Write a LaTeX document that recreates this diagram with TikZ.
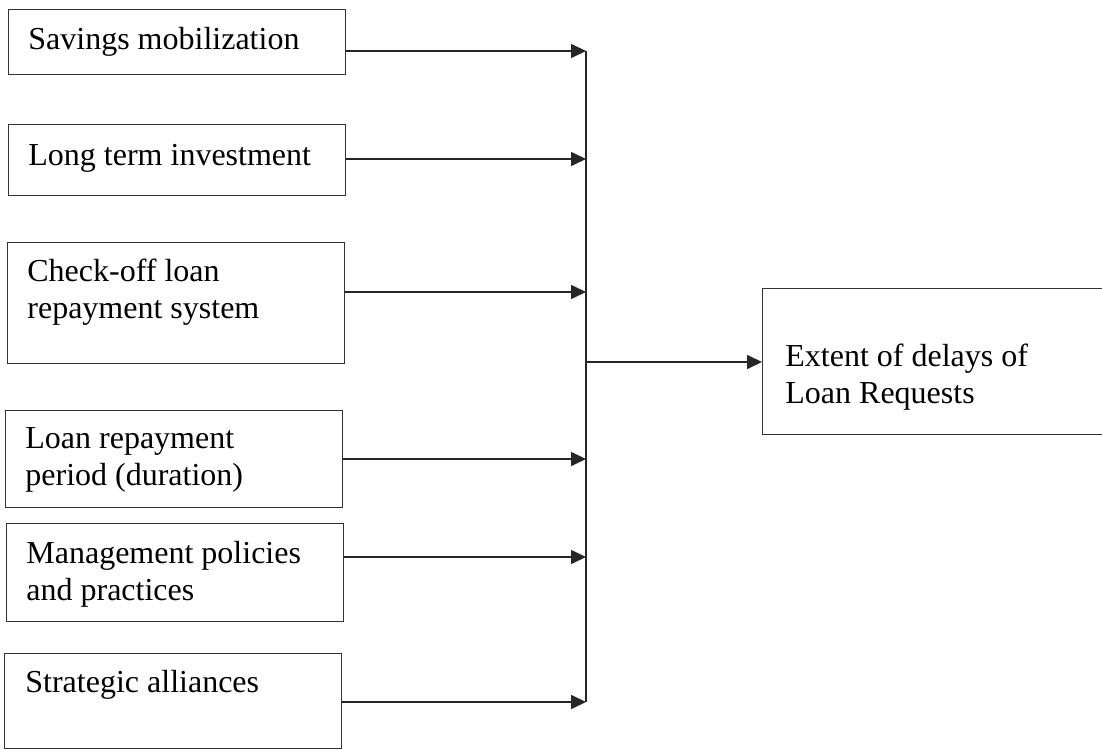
\documentclass[tikz,border=0pt]{standalone}
\usepackage{fontspec}
\setmainfont{Liberation Serif}
\usetikzlibrary{arrows.meta}

\begin{document}
\begin{tikzpicture}[
        x=0.5pt, y=-0.5pt,
        factor/.style={rectangle, draw=black!80, line width=0.6pt, anchor=north west, minimum width=168.5pt, inner sep=0pt},
        boxtext/.style={anchor=base west, align=left, inner sep=0pt, font=\fontsize{16}{18.4}\selectfont},
        arrow/.style={-{Triangle[length=7.5pt, width=7pt]}, line width=0.8pt, black!85}
    ]
    \useasboundingbox (0,0) rectangle (1102,749);

    % Factor boxes (left column)
    \node[factor, minimum height=32.5pt] (savings) at (8,9) {};
    \node[factor, minimum height=35.5pt] (investment) at (8,124) {};
    \node[factor, minimum height=60.5pt] (checkoff) at (7,242) {};
    \node[factor, minimum height=48.5pt] (period) at (5,410) {};
    \node[factor, minimum height=49pt] (policies) at (6,523) {};
    \node[factor, minimum height=47.5pt] (alliances) at (4,653) {};

    % Texts of the factor boxes (base = last line)
    \node[boxtext] (savings_txt) at (28,50) {Savings mobilization};
    \node[boxtext] (investment_txt) at (28,165) {Long term investment};
    \node[boxtext] (checkoff_txt) at (27,318) {Check-off loan\\repayment system};
    \node[boxtext] (period_txt) at (25,485) {Loan repayment\\period (duration)};
    \node[boxtext] (policies_txt) at (26,600) {Management policies\\and practices};
    \node[boxtext] (alliances_txt) at (25,692) {Strategic alliances};

    % Outcome box (cut by the right edge)
    \node[factor, minimum width=174pt, minimum height=73pt] (extent) at (762,288) {};
    \node[boxtext] (extent_txt) at (785,403) {Extent of delays of\\Loan Requests};

    % Points where the arrows meet the bus
    \coordinate (in_savings) at (586,51);
    \coordinate (in_investment) at (586,159);
    \coordinate (in_checkoff) at (586,292);
    \coordinate (in_period) at (586,459);
    \coordinate (in_policies) at (586,557);
    \coordinate (in_alliances) at (586,702);
    \coordinate (merge) at (586,362);

    % Arrows - factors to the bus
    \draw[arrow] (savings.east |- in_savings) -- (in_savings);
    \draw[arrow] (investment.east |- in_investment) -- (in_investment);
    \draw[arrow] (checkoff.east |- in_checkoff) -- (in_checkoff);
    \draw[arrow] (period.east |- in_period) -- (in_period);
    \draw[arrow] (policies.east |- in_policies) -- (in_policies);
    \draw[arrow] (alliances.east |- in_alliances) -- (in_alliances);

    % Bus and arrow to the outcome
    \draw[line width=0.8pt, black!85] (in_savings) -- (in_alliances);
    \draw[arrow] (merge) -- (merge -| extent.west);

\end{tikzpicture}
\end{document}
